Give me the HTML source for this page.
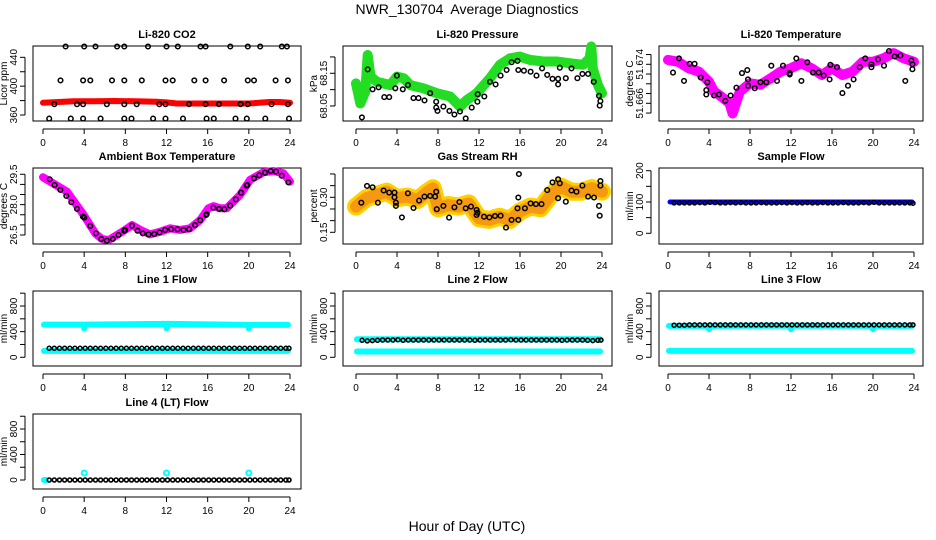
<!DOCTYPE html>
<html><head><meta charset="utf-8"><style>
html,body{margin:0;padding:0;background:#fff;}
svg{display:block;font-family:"Liberation Sans",Arial,sans-serif;}
</style></head><body>
<svg id="chart" width="936" height="540" viewBox="0 0 936 540" xmlns="http://www.w3.org/2000/svg">
<text x="467" y="14" text-anchor="middle" font-size="14" xml:space="preserve">NWR_130704  Average Diagnostics</text>
<text x="467" y="531" text-anchor="middle" font-size="14">Hour of Day (UTC)</text>
</svg>
<script>
// ---------- data ----------
const xTicks = [0,4,8,12,16,20,24];
const co2Hours = [2.2,4.0,5.1,7.2,7.9,10.2,12.0,13.1,15.3,15.8,18.2,19.9,21.1,23.2,23.7, 1.7,3.9,4.6,6.7,7.9,9.6,11.9,12.6,14.7,15.8,17.6,19.9,20.5,22.6,23.8, 1.1,3.3,3.9,6.2,7.9,9.1,11.3,11.9,14.2,15.8,17.1,19.2,19.9,22.2,23.8, 0.6,2.7,3.9,5.6,7.9,8.6,10.7,11.9,13.6,15.9,16.6,18.7,19.8,21.6,23.9];
const co2Values = [455,455,455,455,455,455,455,455,455,455,455,455,455,455,455, 408,408,408,408,408,408,408,408,408,408,408,408,408,408,408, 375,375,375,375,375,375,375,375,375,375,375,375,375,375,375, 355,355,355,355,355,355,355,355,355,355,355,355,355,355,355];
const co2BandHours = [0,1.5,3,5,7,9,11,12,13,14.5,16,18,20,21,22,23,24];
const co2BandValues = [377,378,379,379,379.5,379,378.5,377.5,376,376,376,376,376,377,378,378,377];

const presBandHours = [0,0.42,0.91,1.14,1.41,2.04,3.34,3.99,4.64,5.29,6.58,7.88,9.18,10.15,10.8,11.78,13.07,14.04,15.02,16,16.96,18.26,19.55,20.85,22.15,22.8,22.96,23.1,23.6,24];
const presBandValues = [68.119,68.058,68.094,68.206,68.140,68.124,68.114,68.140,68.135,68.114,68.104,68.089,68.079,68.048,68.068,68.089,68.135,68.176,68.196,68.201,68.191,68.186,68.186,68.181,68.176,68.196,68.232,68.165,68.114,68.089];
const presHours = [0.58,1.14,1.62,2.2,2.76,3.24,3.83,3.99,4.57,5.06,5.61,6.1,6.68,7.23,7.82,7.82,7.95,8.53,9.11,9.6,10.15,10.7,11.29,11.84,11.87,12.52,13.07,13.62,14.11,14.69,15.18,15.76,15.83,16.38,17.03,17.61,18.16,18.65,19.17,19.72,19.72,19.88,20.47,21.02,21.6,22.09,22.64,23.19,23.71,23.78,23.84];
const presValues = [68.015,68.162,68.101,68.107,68.077,68.077,68.104,68.143,68.101,68.114,68.074,68.074,68.067,68.089,68.063,68.045,68.035,68.048,68.035,68.024,68.033,68.012,68.045,68.063,68.086,68.079,68.124,68.116,68.143,68.160,68.184,68.188,68.160,68.158,68.155,68.143,68.165,68.145,68.133,68.133,68.116,68.167,68.135,68.165,68.135,68.148,68.148,68.124,68.081,68.051,68.065];

const ltBandHours = [0,1,2,3,4,4.5,5,6,6.3,7,8,9,10,11,12,13,14,15,16,17,18,19,20,21,22,23,24];
const ltBandValues = [51.6749,51.6745,51.6732,51.6725,51.6704,51.6684,51.6677,51.6660,51.6639,51.6684,51.6701,51.6698,51.6711,51.6725,51.6732,51.6742,51.6732,51.6718,51.6732,51.6718,51.6725,51.6745,51.6745,51.6752,51.6763,51.6752,51.6745];
const ltHours = [1.07,0.49,1.56,2.11,2.6,3.19,3.74,3.84,3.74,4.49,4.98,5.59,6.11,6.67,7.22,7.74,7.8,7.8,8.46,9.01,9.59,10.08,10.63,11.22,11.87,11.87,12.52,13.01,13.59,14.15,14.7,15.19,15.77,15.84,16.49,17.01,17.56,18.11,18.7,19.25,19.84,19.84,20.49,21.07,21.56,22.11,22.67,23.15,23.74,23.84,23.84];
const ltValues = [51.6752,51.6723,51.6706,51.6741,51.6741,51.6713,51.6687,51.6703,51.6678,51.6676,51.6678,51.6665,51.6676,51.6692,51.6722,51.6728,51.6709,51.6696,51.6691,51.6703,51.6703,51.6737,51.6706,51.6737,51.6722,51.6719,51.6752,51.6706,51.6744,51.6723,51.6723,51.6717,51.6709,51.6739,51.6734,51.6681,51.6696,51.6709,51.6734,51.6752,51.6734,51.6740,51.6750,51.6737,51.6767,51.6756,51.6758,51.6706,51.6748,51.6740,51.6730];

const ambBandHours = [0,2.33,3.95,5.08,5.72,6.37,7.18,7.99,8.64,9.44,10.41,11.38,12.35,13.32,14.29,15.27,16.07,16.56,17.21,17.85,19.15,20.12,21.41,22.38,23.35,24];
const ambBandValues = [29.35,28.64,27.49,26.58,26.30,26.25,26.50,26.75,26.99,26.75,26.53,26.66,26.83,26.75,26.83,27.24,27.82,27.93,27.82,27.82,28.48,29.22,29.60,29.66,29.55,29.14];
const ambHours = [0.65,1.13,1.68,2.26,2.75,3.30,3.88,4.01,4.59,5.14,5.66,6.21,6.79,7.34,7.89,7.99,8.64,9.18,9.70,10.25,10.80,11.32,11.87,12.45,13.07,13.65,14.20,14.78,15.27,15.85,15.91,16.56,17.11,17.63,18.18,18.73,19.25,19.79,19.86,20.50,21.02,21.57,22.12,22.64,23.19,23.84];
const ambValues = [29.25,28.97,28.73,28.43,28.12,27.79,27.41,27.36,26.95,26.58,26.30,26.22,26.30,26.50,26.71,26.75,26.96,26.71,26.58,26.53,26.55,26.63,26.75,26.78,26.78,26.75,26.78,26.99,27.23,27.49,27.52,27.85,27.79,27.77,27.95,28.26,28.59,28.94,28.97,29.30,29.45,29.58,29.66,29.63,29.43,29.10];

const rhBandHours = [0,1,2,3,4,5,6,7,7.5,8,9,10,11,12,13,14,15,16,17,18,19,20,21,22,23,24];
const rhBandValues = [0.260,0.296,0.310,0.324,0.296,0.303,0.289,0.324,0.339,0.253,0.267,0.260,0.274,0.210,0.203,0.217,0.203,0.239,0.260,0.253,0.310,0.346,0.324,0.324,0.339,0.324];
const rhHours = [0.52,1.07,1.62,2.14,2.69,3.24,3.76,3.76,3.89,3.89,4.48,5.06,5.61,6.16,6.68,7.23,7.72,7.82,7.88,8.53,9.08,9.60,10.09,10.70,11.22,11.77,11.77,11.84,12.49,13.01,13.56,14.11,14.63,15.18,15.76,15.83,15.89,15.83,16.48,17.03,17.55,18.10,18.65,19.17,19.72,19.72,19.88,20.47,21.02,21.51,22.09,22.64,23.22,23.71,23.78,23.84,23.84];
const rhValues = [0.277,0.349,0.343,0.277,0.329,0.320,0.320,0.300,0.277,0.263,0.214,0.317,0.254,0.286,0.303,0.306,0.303,0.324,0.249,0.263,0.213,0.257,0.280,0.253,0.260,0.246,0.224,0.234,0.217,0.214,0.220,0.221,0.170,0.203,0.253,0.203,0.400,0.299,0.253,0.274,0.271,0.271,0.331,0.364,0.296,0.377,0.360,0.281,0.329,0.324,0.350,0.303,0.299,0.263,0.221,0.370,0.350];

const flowHours = [0.6,1.1,1.6,2.1,2.6,3.1,3.6,4.1,4.6,5.1,5.6,6.1,6.6,7.1,7.6,8.1,8.6,9.1,9.6,10.1,10.6,11.1,11.6,12.1,12.6,13.1,13.6,14.1,14.6,15.1,15.6,16.1,16.6,17.1,17.6,18.1,18.6,19.1,19.6,20.1,20.6,21.1,21.6,22.1,22.6,23.1,23.6,23.9];
const sampleFlowValues = [97,97,97,97,97,98,97,99,98,97,97,98,97,98,97,97,97,98,97,97,97,98,97,98,97,97,98,97,97,98,97,97,97,98,97,97,97,98,97,99,97,97,97,97,97,97,97,96];
const sampleBandHours = [0.2,4,8,12,16,20,23.8];
const sampleBandValues = [100,100,100,100,100,100,100];

const line1Values = [140,140,140,140,140,140,140,140,140,140,140,140,140,140,140,140,140,140,140,140,140,140,140,140,140,140,140,140,140,140,140,140,140,140,140,140,140,140,140,140,140,140,140,140,140,140,140,140];
const line1HighHours = [0.1,3.9,4.0,4.1,11.9,12.0,12.1,19.9,20.0,20.1,23.8];
const line1HighValues = [510,510,450,510,520,450,520,505,450,505,505];
const line1LowHours = [0.1,23.8];
const line1LowValues = [100,100];

const line2Values = [265,255,260,265,270,270,270,275,265,270,270,270,270,270,270,270,270,270,270,270,270,270,265,270,270,270,270,270,270,275,270,270,270,270,270,270,270,270,270,265,270,270,270,270,265,260,265,268];
const line2HighHours = [0.1,0.5,23.8];
const line2HighValues = [280,280,280];
const line2LowHours = [0.1,23.8];
const line2LowValues = [90,90];

const line3Values = [500,500,500,505,505,505,505,505,505,505,505,505,505,505,505,505,505,505,505,505,505,505,505,505,505,505,505,505,505,505,505,505,505,505,505,505,505,505,505,505,505,505,505,505,505,505,505,505];
const line3HighHours = [0.1,3.9,4.0,4.1,11.9,12.0,12.1,19.9,20.0,20.1,23.8];
const line3HighValues = [490,490,440,490,495,440,495,490,440,490,490];
const line3LowHours = [0.1,23.8];
const line3LowValues = [100,100];

const line4Values = [0,0,0,0,0,0,0,0,0,0,0,0,0,0,0,0,0,0,0,0,0,0,0,0,0,0,0,0,0,0,0,0,0,0,0,0,0,0,0,0,0,0,0,0,0,0,0,0];
const line4SpikeHours = [4.0,12.0,20.0];
const line4SpikeValues = [110,110,110];
const line4BandHours = [0.1,0.3];
const line4BandValues = [0,0];

// ---------- drawing ----------
const NS = "http://www.w3.org/2000/svg";
const svg = document.getElementById("chart");
const cols = [{l:33,r:301,x0:43,x24:290},{l:343,r:612,x0:356,x24:602},{l:659,r:923,x0:668,x24:914}];
const rows = [{t:46,b:121},{t:168,b:244},{t:291,b:366},{t:414,b:489}];

function el(tag, attrs, parent){
  const e = document.createElementNS(NS, tag);
  for (const k in attrs) e.setAttribute(k, attrs[k]);
  (parent||svg).appendChild(e);
  return e;
}

function makePanel(name, title, ylab, col, row, ymin, ymax, yticks, ylabels){
  const c = cols[col], r = rows[row];
  const g = el("g", {});
  
  
  const xs = h => c.x0 + h*(c.x24-c.x0)/24;
  const ys = v => r.b - (v-ymin)*(r.b-r.t)/(ymax-ymin);
  const box = el("rect", {x:c.l, y:r.t, width:c.r-c.l, height:r.b-r.t, fill:"none", stroke:"#000", "stroke-width":1}, g);
  
  
  const t = el("text", {x:(c.l+c.r)/2, y:r.t-8, "text-anchor":"middle", "font-size":11, "font-weight":"bold"}, g);
  t.textContent = title;
  
  
  const xa = el("g", {}, g);
  
  
  const ay = r.b + 8;
  el("line", {x1:xs(xTicks[0]), x2:xs(xTicks[xTicks.length-1]), y1:ay, y2:ay, stroke:"#000"}, xa);
  xTicks.forEach(v => {
    el("line", {x1:xs(v), x2:xs(v), y1:ay, y2:ay+5, stroke:"#000"}, xa);
    const tl = el("text", {x:xs(v), y:ay+17, "text-anchor":"middle", "font-size":10}, xa);
    tl.textContent = v;
    
    
  });
  const ya = el("g", {}, g);
  
  
  const ax = c.l - 8;
  el("line", {x1:ax, x2:ax, y1:ys(yticks[0]), y2:ys(yticks[yticks.length-1]), stroke:"#000"}, ya);
  yticks.forEach(v => el("line", {x1:ax-5, x2:ax, y1:ys(v), y2:ys(v), stroke:"#000"}, ya));
  ylabels.forEach(v => {
    const yl = el("text", {x:0, y:0, "text-anchor":"middle", "font-size":10, transform:`translate(${ax-8},${ys(v)}) rotate(-90)`}, ya);
    yl.textContent = fmt(v, yticks);
    
    
  });
  const yt = el("text", {x:0, y:0, "text-anchor":"middle", "font-size":10, transform:`translate(${c.l-26},${(r.t+r.b)/2}) rotate(-90)`}, g);
  yt.textContent = ylab;
  
  
  return {g, xs, ys};
}
function fmt(v, ticks){
  const step = Math.abs(ticks[1]-ticks[0]);
  let d = 0; while (step*Math.pow(10,d) < 0.999 && d < 6) d++;
  if (ticks.some(x=>Math.round(x*2)%2!==0) && d===0) d=1;
  return v.toFixed(d);
}
function band(p, name, hrs, vals, color, w){
  const pts = hrs.map((h,i)=>p.xs(h).toFixed(1)+","+p.ys(vals[i]).toFixed(1)).join(" ");
  const pl = el("polyline", {points:pts, fill:"none", stroke:color, "stroke-width":w, "stroke-linecap":"round", "stroke-linejoin":"round"}, p.g);
  
  
}
function dots(p, name, hrs, vals, color, rr, sw){
  const gg = el("g", {}, p.g);
  
  
  hrs.forEach((h,i)=>{
    const ci = el("circle", {cx:p.xs(h).toFixed(1), cy:p.ys(vals[i]).toFixed(1), r:rr||2.3, fill:"none", stroke:color||"#000", "stroke-width":sw||1.5}, gg);
    
    
  });
}

let p = makePanel("co2", "Li-820 CO2", "Licor ppm", 0, 0, 351.7, 455.7, [360,380,400,420,440], [360,400,440]);
band(p, "co2-band", co2BandHours, co2BandValues, "#ff0000", 6);
dots(p, "co2-points", co2Hours, co2Values);
p = makePanel("pressure", "Li-820 Pressure", "kPa", 1, 0, 68.004, 68.2335, [68.05,68.10,68.15,68.20], [68.05,68.15]);
band(p, "pressure-band", presBandHours, presBandValues, "#22dd22", 10);
dots(p, "pressure-points", presHours, presValues);
p = makePanel("li-temp", "Li-820 Temperature", "degrees C", 2, 0, 51.66237, 51.67775, [51.664,51.666,51.668,51.670,51.672,51.674,51.676], [51.666,51.674]);
band(p, "li-temp-band", ltBandHours, ltBandValues, "#ff00ff", 10);
dots(p, "li-temp-points", ltHours, ltValues);
p = makePanel("ambient-temp", "Ambient Box Temperature", "degrees C", 0, 1, 26.055, 29.81, [26.5,27.0,27.5,28.0,28.5,29.0,29.5], [26.5,28.0,29.5]);
band(p, "ambient-band", ambBandHours, ambBandValues, "#ff00ff", 8);
dots(p, "ambient-points", ambHours, ambValues);
p = makePanel("gas-rh", "Gas Stream RH", "percent", 1, 1, 0.0999, 0.4256, [0.15,0.20,0.25,0.30,0.35,0.40], [0.15,0.30]);
band(p, "rh-band-outer", rhBandHours, rhBandValues, "#ffd000", 18);
band(p, "rh-band", rhBandHours, rhBandValues, "#f59a10", 12);
dots(p, "rh-points", rhHours, rhValues);
p = makePanel("sample-flow", "Sample Flow", "ml/min", 2, 1, -34.2, 208.6, [0,50,100,150,200], [0,100,200]);
band(p, "sample-band", sampleBandHours, sampleBandValues, "#0000ff", 5);
dots(p, "sample-points", flowHours, sampleFlowValues, "#000", 2, 1.5);
const fT = [0,200,400,600,800,1000], fL = [0,400,800];
p = makePanel("line1-flow", "Line 1 Flow", "ml/min", 0, 2, -136, 1034, fT, fL);
band(p, "line1-high-band", line1HighHours, line1HighValues, "#00ffff", 6);
band(p, "line1-low-band", line1LowHours, line1LowValues, "#00ffff", 6);
dots(p, "line1-points", flowHours, line1Values, "#000", 2, 1.5);
p = makePanel("line2-flow", "Line 2 Flow", "ml/min", 1, 2, -136, 1034, fT, fL);
band(p, "line2-high-band", line2HighHours, line2HighValues, "#00ffff", 6);
band(p, "line2-low-band", line2LowHours, line2LowValues, "#00ffff", 6);
dots(p, "line2-points", flowHours, line2Values, "#000", 2, 1.5);
p = makePanel("line3-flow", "Line 3 Flow", "ml/min", 2, 2, -136, 1034, fT, fL);
band(p, "line3-high-band", line3HighHours, line3HighValues, "#00ffff", 6);
band(p, "line3-low-band", line3LowHours, line3LowValues, "#00ffff", 6);
dots(p, "line3-points", flowHours, line3Values, "#000", 2, 1.5);
p = makePanel("line4-flow", "Line 4 (LT) Flow", "ml/min", 0, 3, -141, 1035, fT, fL);
band(p, "line4-band", line4BandHours, line4BandValues, "#00ffff", 6);
dots(p, "line4-spikes", line4SpikeHours, line4SpikeValues, "#00ffff", 2.5, 2);
dots(p, "line4-points", flowHours, line4Values, "#000", 2, 1.6);
</script>
</body></html>
